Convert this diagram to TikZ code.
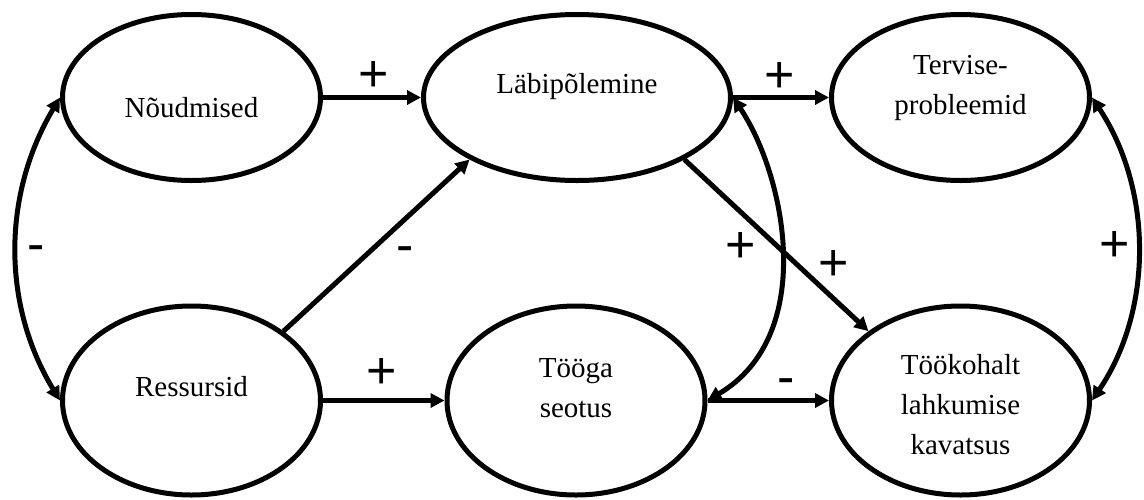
\documentclass[tikz,border=0pt]{standalone}
\usepackage{fontspec}
\setmainfont{Liberation Serif}
\newfontfamily\labfont{Liberation Sans}
\usetikzlibrary{arrows.meta,shapes.geometric}
\begin{document}
\begin{tikzpicture}[x=1pt,y=-1pt,
  ell/.style={draw=black, line width=5pt, ellipse, inner sep=0pt, minimum width=258pt, minimum height=166pt},
  ellbig/.style={ell, minimum height=189pt},
  txt/.style={font=\fontsize{29}{40}\selectfont, align=center, inner sep=0pt},
  sgn/.style={font=\labfont\fontsize{52}{52}\selectfont, inner sep=0pt},
  tip/.tip={Triangle[length=14pt,width=14pt]},
  arr/.style={line width=5pt, -tip},
  dbl/.style={line width=5pt, tip-tip}
]
\useasboundingbox (0,0) rectangle (1144,499);
% ellipses
\node[ell] (nou) at (191.5,97.5) {};
\node[ell, minimum width=307pt] (lab) at (577,97.5) {};
\node[ell] (ter) at (960.5,97.5) {};
\node[ellbig] (res) at (191.5,400.5) {};
\node[ellbig] (too) at (576,400.5) {};
\node[ellbig] (tok) at (960.5,400.5) {};
% texts
\node[txt] (noutxt) at (191.5,108) {Nõudmised};
\node[txt] (labtxt) at (577,87) {Läbipõlemine};
\node[txt] (tertxt) at (960.5,88) {Tervise-\\probleemid};
\node[txt] (restxt) at (191.5,387) {Ressursid};
\node[txt] (tootxt) at (576,388) {Tööga\\seotus};
\node[txt] (toktxt) at (960.5,405) {Töökohalt\\lahkumise\\kavatsus};
% connectors
\draw[arr] (nou.east) -- (lab.west);
\draw[arr] (lab.east) -- (ter.west);
\draw[arr] (res.east) -- (too.west);
\draw[arr] (too.east) -- (tok.west);
\draw[arr] (res.37) -- (lab.210.4);
\draw[arr] (lab.-30.4) -- (tok.143);
\draw[dbl] (nou.west) .. controls (2,195) and (2,305) .. (res.west);
\draw[dbl] (lab.east) .. controls (785,175) and (818,335) .. (too.east);
\draw[dbl] (ter.east) .. controls (1153,190) and (1153,310) .. (tok.east);
% signs
\node[sgn] (s1) at (374,76) {+};
\node[sgn] (s2) at (780,77) {+};
\node[sgn] (s3) at (405,255) {-};
\node[sgn] (s4) at (36,254) {-};
\node[sgn] (s5) at (382,373) {+};
\node[sgn] (s6) at (741,247) {+};
\node[sgn] (s7) at (834,265) {+};
\node[sgn] (s8) at (786,387) {-};
\node[sgn] (s9) at (1115,246) {+};
\end{tikzpicture}
\end{document}
